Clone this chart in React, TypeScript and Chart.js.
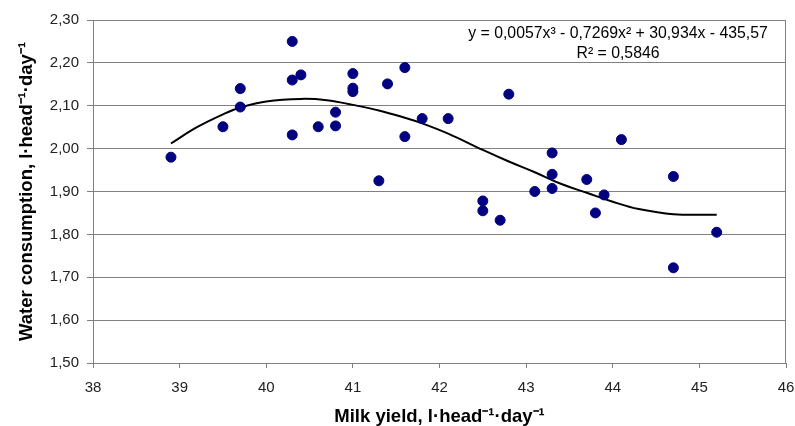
import React, { useEffect, useRef } from "react";
import { Chart, registerables } from "chart.js";

Chart.register(...registerables);

// Observed points: milk yield (x) and water consumption (y)
const milkYield = [
  38.9, 39.5, 39.7, 39.7, 40.3, 40.3, 40.3, 40.4, 40.6, 40.8, 40.8, 41.0, 41.0, 41.0,
  41.3, 41.4, 41.6, 41.6, 41.8, 42.1, 42.5, 42.5, 42.7, 42.8, 43.1, 43.3, 43.3, 43.3,
  43.7, 43.8, 43.9, 44.1, 44.7, 44.7, 45.2,
];
const waterConsumption = [
  1.98, 2.051, 2.14, 2.097, 2.25, 2.16, 2.032, 2.172, 2.051, 2.085, 2.053, 2.175, 2.141, 2.133,
  1.925, 2.151, 2.189, 2.028, 2.07, 2.07, 1.878, 1.855, 1.833, 2.127, 1.9, 1.99, 1.94, 1.907,
  1.928, 1.85, 1.892, 2.021, 1.935, 1.722, 1.805,
];

// Trend line
const trendX = [38.9, 39.2, 39.5, 39.7, 40.0, 40.4, 40.7, 41.0, 41.3, 41.6, 41.8, 42.1, 42.5, 42.8, 43.1, 43.4, 43.7, 44.0, 44.3, 44.7, 45.2];
const trendY = [2.012, 2.05, 2.08, 2.096, 2.11, 2.116, 2.113, 2.102, 2.089, 2.072, 2.059, 2.035, 1.997, 1.97, 1.945, 1.918, 1.897, 1.876, 1.859, 1.847, 1.846];

const equationLines = ["y = 0,0057x³ - 0,7269x² + 30,934x - 435,57", "R² = 0,5846"];
const xTitle = "Milk yield, l·head⁻¹·day⁻¹";
const yTitle = "Water consumption, l·head⁻¹·day⁻¹";

const FONT = "'Liberation Sans', Arial, sans-serif";

const overlayPlugin = {
  id: "overlay",
  afterDraw(chart: any) {
    const { ctx, chartArea } = chart;
    ctx.save();
    ctx.strokeStyle = "#808080";
    ctx.lineWidth = 1;
    ctx.beginPath();
    ctx.moveTo(chartArea.right - 0.5, chartArea.top);
    ctx.lineTo(chartArea.right - 0.5, chartArea.bottom);
    ctx.stroke();
    ctx.fillStyle = "#000";
    ctx.font = `15.8px ${FONT}`;
    ctx.textAlign = "center";
    ctx.textBaseline = "middle";
    ctx.fillText(equationLines[0], 618, 34);
    ctx.fillText(equationLines[1], 618, 54);
    ctx.restore();
  },
};

export default function App() {
  const ref = useRef<HTMLCanvasElement>(null);
  useEffect(() => {
    const points = milkYield.map((x, i) => ({ x, y: waterConsumption[i] }));
    const trend = trendX.map((x, i) => ({ x, y: trendY[i] }));
    const chart = new Chart(ref.current!, {
      type: "scatter",
      data: {
        datasets: [
          {
            data: points,
            backgroundColor: "#000080",
            borderColor: "#000080",
            pointRadius: 5,
            pointHoverRadius: 5,
            order: 1,
          },
          {
            data: trend,
            showLine: true,
            borderColor: "#000",
            borderWidth: 2,
            pointRadius: 0,
            tension: 0.4,
            fill: false,
            order: 2,
          } as any,
        ],
      },
      options: {
        animation: false,
        responsive: false,
        maintainAspectRatio: false,
        layout: { padding: { top: 20, right: 9, left: 0, bottom: 0 } },
        plugins: { legend: { display: false }, tooltip: { enabled: false } },
        scales: {
          x: {
            type: "linear",
            min: 38,
            max: 46,
            afterFit: (s: any) => {
              s.height = 63;
              s.paddingRight = 9;
              s.paddingLeft = 0;
            },
            ticks: {
              stepSize: 1,
              color: "#222",
              font: { family: FONT, size: 15 },
              padding: 11,
            },
            grid: { drawOnChartArea: false, drawTicks: true, tickLength: 5, color: "#808080" },
            border: { color: "#808080" },
            title: {
              display: true,
              text: xTitle,
              color: "#000",
              font: { family: FONT, size: 18.5, weight: "bold" },
              padding: { top: 0, bottom: -2 },
            },
          },
          y: {
            type: "linear",
            min: 1.5,
            max: 2.3,
            afterFit: (s: any) => { s.width = 93; },
            ticks: {
              stepSize: 0.1,
              color: "#222",
              font: { family: FONT, size: 15 },
              padding: 8,
              callback: (v: any) => Number(v).toFixed(2).replace(".", ","),
            },
            grid: { color: "#808080", tickLength: 6 },
            border: { color: "#808080" },
            title: {
              display: true,
              text: yTitle,
              color: "#000",
              font: { family: FONT, size: 18.5, weight: "bold" },
              padding: { top: 16, bottom: 0 },
            },
          },
        },
      },
      plugins: [overlayPlugin],
    });
    return () => chart.destroy();
  }, []);
  return (
    <div style={{ position: "fixed", left: 0, top: 0, width: 795, height: 426, background: "#fff" }}>
      <canvas ref={ref} width={795} height={426} style={{ width: 795, height: 426 }} />
    </div>
  );
}
